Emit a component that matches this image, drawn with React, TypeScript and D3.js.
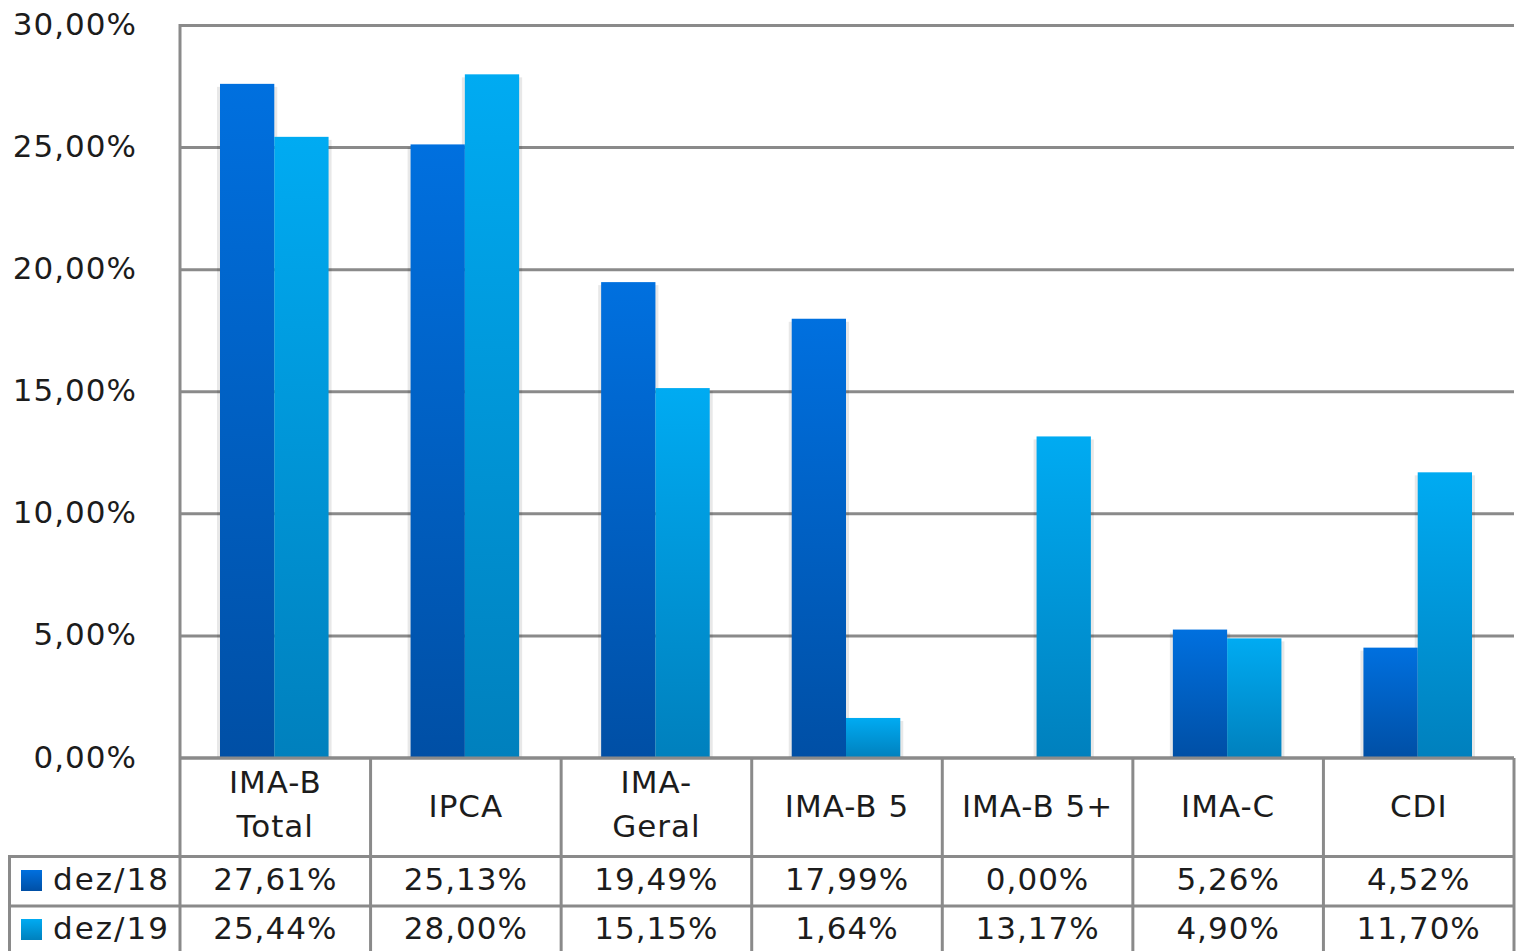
import React from 'react';
import * as d3 from 'd3';

// categories and their wrapped labels as shown in the table header
const categories = ['IMA-B Total', 'IPCA', 'IMA-Geral', 'IMA-B 5', 'IMA-B 5+', 'IMA-C', 'CDI'];
const categoryLines = [['IMA-B', 'Total'], ['IPCA'], ['IMA-', 'Geral'], ['IMA-B 5'], ['IMA-B 5+'], ['IMA-C'], ['CDI']];

const seriesNames = ['dez/18', 'dez/19'];
const dez18 = [27.61, 25.13, 19.49, 17.99, 0.0, 5.26, 4.52];
const dez19 = [25.44, 28.0, 15.15, 1.64, 13.17, 4.9, 11.7];

const yTicks = [0, 5, 10, 15, 20, 25, 30];

const seriesValues = [dez18, dez19];
const gradients = [
  { id: 'g18', top: '#0070df', bottom: '#004fa5' },
  { id: 'g19', top: '#00abf2', bottom: '#0080bd' },
];

const W = 1520;
const H = 951;
const left = 180;
const right = 1514;
const top = 25.5;
const base = 758;
const row1 = 856.5;
const row2 = 906;
const tableLeft = 9.5;
const grey = '#8a8a8a';
const font = '"DejaVu Sans", Verdana, sans-serif';
const fs = 31;
const ls = 1;
const textColor = '#1c1c1c';

const fmt = (v: number) => v.toFixed(2).replace('.', ',') + '%';

const App = () => {
  const x = d3.scaleBand<string>().domain(categories).range([left, right]).padding(0);
  const bw = x.bandwidth();
  const x1 = d3.scaleBand<string>().domain(seriesNames).range([40, bw - 42]).padding(0);
  const y = d3.scaleLinear().domain([0, 30]).range([base, top]);

  const bars: any[] = [];
  seriesNames.forEach((s, si) => {
    categories.forEach((c, ci) => {
      const v = seriesValues[si][ci];
      if (v <= 0) return;
      const bx = (x(c) as number) + (x1(s) as number);
      const by = y(v);
      bars.push({ s, si, c, bx, by, h: base - by });
    });
  });

  return (
    <svg width={W} height={H} style={{ position: 'absolute', left: 0, top: 0, background: '#fff' }}>
      <defs>
        {gradients.map(g => (
          <linearGradient key={g.id} id={g.id} x1="0" y1="0" x2="0" y2="1">
            <stop offset="0%" stopColor={g.top} />
            <stop offset="100%" stopColor={g.bottom} />
          </linearGradient>
        ))}
      </defs>

      {/* gridlines */}
      {yTicks.map(t => (
        <line key={t} x1={left} x2={right} y1={y(t)} y2={y(t)} stroke={grey} strokeWidth={3} />
      ))}
      <line x1={left} x2={left} y1={top - 1.5} y2={base} stroke={grey} strokeWidth={3} />

      {/* y labels */}
      {yTicks.map(t => (
        <text key={'l' + t} x={137} y={y(t) + 9.5} textAnchor="end" fontFamily={font} fontSize={fs} letterSpacing={ls} fill={textColor}>
          {fmt(t)}
        </text>
      ))}

      {/* bar shadows */}
      {bars.map((b, i) => (
        <rect key={'sh' + i} x={b.bx - 3} y={b.by + 3} width={x1.bandwidth() + 6} height={b.h - 3} fill="#000" fillOpacity={0.09} />
      ))}
      {/* bars */}
      {bars.map((b, i) => (
        <rect key={'b' + i} x={b.bx} y={b.by} width={x1.bandwidth()} height={b.h} fill={`url(#${gradients[b.si].id})`} />
      ))}
      <line x1={left} x2={right} y1={base} y2={base} stroke={grey} strokeWidth={3} />

      {/* data table */}
      <line x1={tableLeft} x2={right} y1={row1} y2={row1} stroke={grey} strokeWidth={3} />
      <line x1={tableLeft} x2={right} y1={row2} y2={row2} stroke={grey} strokeWidth={3} />
      <line x1={tableLeft} x2={tableLeft} y1={row1 - 1.5} y2={H + 10} stroke={grey} strokeWidth={3} />
      {categories.map((c, i) => (
        <line key={'v' + i} x1={(x(c) as number) + bw} x2={(x(c) as number) + bw} y1={base} y2={H + 10} stroke={grey} strokeWidth={3} />
      ))}
      <line x1={left} x2={left} y1={base} y2={H + 10} stroke={grey} strokeWidth={3} />

      {categories.map((c, i) => {
        const lines = categoryLines[i];
        const cx = (x(c) as number) + bw / 2;
        return (
          <text key={'c' + i} textAnchor="middle" fontFamily={font} fontSize={fs} letterSpacing={ls} fill={textColor}>
            {lines.map((ln, li) => (
              <tspan key={li} x={cx} y={lines.length === 1 ? 817 : 793 + li * 44}>
                {ln}
              </tspan>
            ))}
          </text>
        );
      })}

      {seriesNames.map((s, si) => {
        const by = si === 0 ? 890 : 939;
        return (
          <g key={s}>
            <rect x={21} y={by - 20} width={21} height={21} fill={`url(#${gradients[si].id})`} />
            <text x={53} y={by} fontFamily={font} fontSize={fs} letterSpacing={ls + 1} fill={textColor}>
              {s}
            </text>
            {categories.map((c, ci) => (
              <text key={c} x={(x(c) as number) + bw / 2} y={by} textAnchor="middle" fontFamily={font} fontSize={fs} letterSpacing={ls} fill={textColor}>
                {fmt(seriesValues[si][ci])}
              </text>
            ))}
          </g>
        );
      })}
    </svg>
  );
};

export default App;
